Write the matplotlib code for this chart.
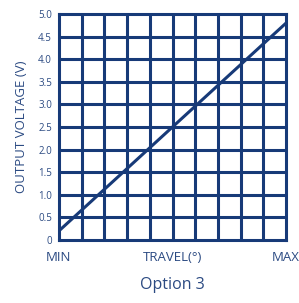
import numpy as np
import matplotlib.pyplot as plt

navy = "#173a78"
txt = "#2b4a82"

travel = [0, 10]
voltage = [0.2, 4.8]
yticks = [0, 0.5, 1.0, 1.5, 2.0, 2.5, 3.0, 3.5, 4.0, 4.5, 5.0]
ylabels = ["0", "0.5", "1.0", "1.5", "2.0", "2.5", "3.0", "3.5", "4.0", "4.5", "5.0"]
xticks = [0, 5, 10]
xlabels = ["MIN", "TRAVEL(°)", "MAX"]

plt.rcParams['font.family'] = ['Open Sans', 'DejaVu Sans']

fig = plt.figure(figsize=(2.99, 3.03), dpi=100)
ax = fig.add_axes([0.197, 0.208, 0.760, 0.746])
ax.set_xlim(0, 10)
ax.set_ylim(0, 5)

for xv in np.arange(1, 10):
    ax.axvline(xv, color=navy, lw=2.2, zorder=1)
for yv in yticks[1:-1]:
    ax.axhline(yv, color=navy, lw=2.2, zorder=1)
for s in ax.spines.values():
    s.set_color(navy)
    s.set_linewidth(2.2)

ax.plot(travel, voltage, color=navy, lw=2.2, zorder=2)

ax.set_yticks(yticks)
ax.set_yticklabels(ylabels, fontsize=7, color=txt)
ax.set_xticks(xticks)
ax.set_xticklabels(xlabels, fontsize=9.5, color=txt)
ax.tick_params(axis='both', length=0)
ax.tick_params(axis='y', pad=5)
ax.tick_params(axis='x', pad=8)

ax.set_ylabel("OUTPUT VOLTAGE (V)", fontsize=9.5, color=txt, labelpad=7)
fig.text(0.577, 0.045, "Option 3", ha='center', fontsize=11.5, color=txt)

fig.savefig("out.png", dpi=100)
